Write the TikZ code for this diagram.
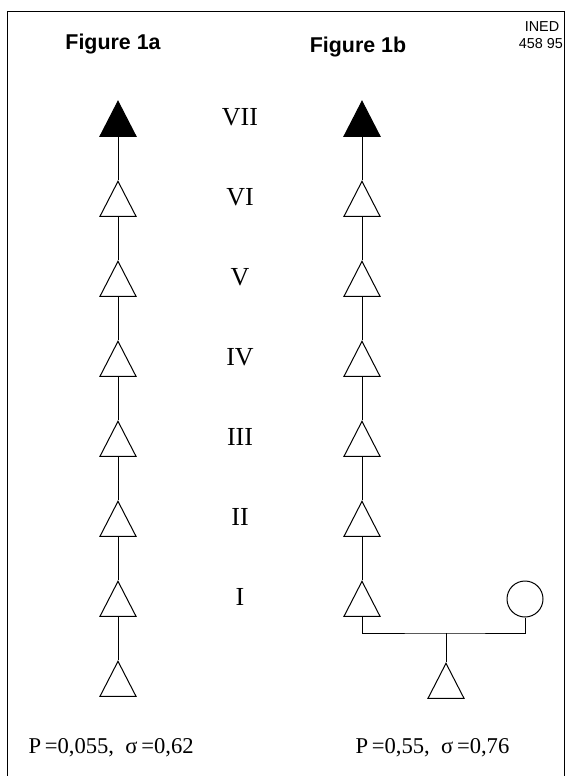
\documentclass[tikz,border=0pt]{standalone}
\usepackage{fontspec}
\setmainfont{Liberation Serif}
\newfontfamily\headfont{Liberation Sans}
\usetikzlibrary{shapes.geometric}

\begin{document}
\begin{tikzpicture}[
    x=0.5pt, y=-0.5pt, line width=0.5pt,
    gen/.style={draw, isosceles triangle, isosceles triangle stretches,
      shape border rotate=90, minimum width=18pt, minimum height=17.5pt,
      inner sep=0pt, anchor=apex},
    ego/.style={gen, fill=black},
    fem/.style={draw, circle, minimum size=18pt, inner sep=0pt},
    lvl/.style={font=\fontsize{13}{13}\selectfont},
    title/.style={font=\headfont\bfseries\fontsize{10.7}{12}\selectfont},
    stamp/.style={font=\headfont\fontsize{7.2}{8}\selectfont},
    stat/.style={font=\fontsize{11.3}{13}\selectfont, anchor=west, inner sep=0pt}
  ]
  \useasboundingbox (0,0) rectangle (566,776);
  \draw[thin] (7,776) |- (564,11) -- (564,776);

  % headings
  \node[title] (ta) at (113,44) {Figure 1a};
  \node[title] (tb) at (358,47) {Figure 1b};
  \node[stamp] (ined) at (542,27) {INED};
  \node[stamp] (num) at (541,44) {458 95};

  % the two lines of descent
  \node[ego] (a7) at (118,100) {};
  \node[ego] (b7) at (362,100) {};
  \node[lvl] (l7) at (240,117) {VII};
  \foreach \k/\r in {6/VI,5/V,4/IV,3/III,2/II,1/I} {
    \node[gen] (a\k) at (118,{100+(7-\k)*80}) {};
    \node[gen] (b\k) at (362,{100+(7-\k)*80}) {};
    \node[lvl] (l\k) at (240,{117+(7-\k)*80}) {\r};
  }
  \node[gen] (a0) at (118,660) {};
  \foreach \k [evaluate=\k as \j using int(\k-1)] in {7,...,1}
    \draw (a\k.lower side) -- (a\j.apex);
  \foreach \k [evaluate=\k as \j using int(\k-1)] in {7,...,2}
    \draw (b\k.lower side) -- (b\j.apex);

  % marriage in figure 1b
  \node[fem] (wife) at (525,599) {};
  \coordinate (mid) at (446,633);
  \node[gen] (b0) at (446,662) {};
  \draw (b1.lower side) |- (mid) -| (wife.south);
  \draw (mid) -- (b0.apex);

  % values
  \node[stat] (sa) at (28,748) {P\,=0,055,\enspace σ\,=0,62};
  \node[stat] (sb) at (355,748) {P\,=0,55,\enspace σ\,=0,76};
\end{tikzpicture}
\end{document}
